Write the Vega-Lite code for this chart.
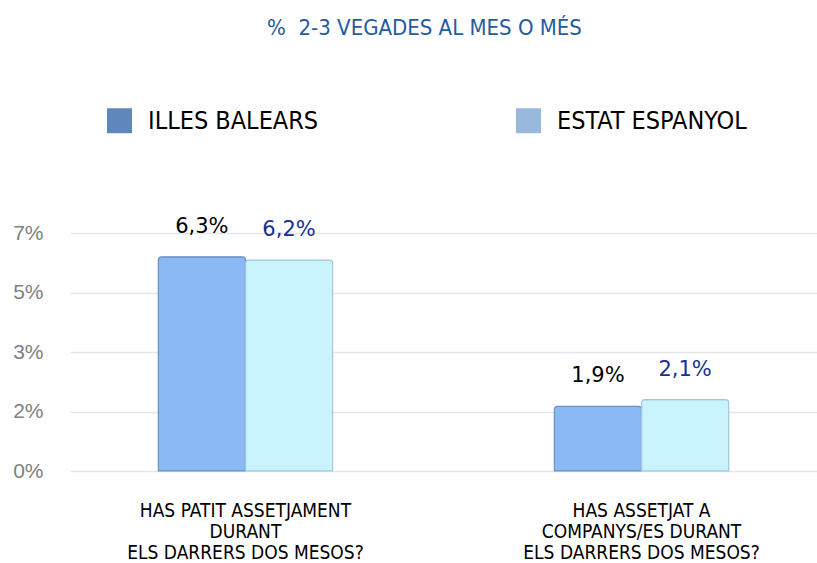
{
  "$schema": "https://vega.github.io/schema/vega-lite/v6.json",
  "width": 747,
  "height": 238,
  "autosize": {"type": "none"},
  "padding": {"left": 70, "top": 233, "right": 0, "bottom": 92},
  "background": "white",
  "title": {
    "text": "% \u00a02-3 VEGADES AL MES O MÉS",
    "font": "DejaVu Sans Condensed",
    "fontSize": 22,
    "fontWeight": "normal",
    "color": "#1f5c9e",
    "anchor": "middle",
    "frame": "group",
    "baseline": "alphabetic",
    "offset": 51,
    "dx": -19
  },
  "config": {"view": {"stroke": null}},
  "data": {
    "values": [
      {"q": "HAS PATIT ASSETJAMENT|DURANT|ELS DARRERS DOS MESOS?", "s": "ILLES BALEARS", "v": 6.3, "lab": "6,3%"},
      {"q": "HAS PATIT ASSETJAMENT|DURANT|ELS DARRERS DOS MESOS?", "s": "ESTAT ESPANYOL", "v": 6.2, "lab": "6,2%"},
      {"q": "HAS ASSETJAT A|COMPANYS/ES DURANT|ELS DARRERS DOS MESOS?", "s": "ILLES BALEARS", "v": 1.9, "lab": "1,9%"},
      {"q": "HAS ASSETJAT A|COMPANYS/ES DURANT|ELS DARRERS DOS MESOS?", "s": "ESTAT ESPANYOL", "v": 2.1, "lab": "2,1%"}
    ]
  },
  "encoding": {
    "x": {
      "field": "q",
      "type": "nominal",
      "sort": null,
      "scale": {"paddingInner": 0.56, "paddingOuter": 0.223},
      "axis": {
        "title": null,
        "labelExpr": "split(datum.label, '|')",
        "labelFont": "DejaVu Sans Condensed",
        "labelFontSize": 19,
        "labelLineHeight": 21,
        "labelColor": "black",
        "labelAngle": 0,
        "labelLimit": 0,
        "labelPadding": 30,
        "ticks": false,
        "domain": false
      }
    },
    "xOffset": {
      "field": "s",
      "type": "nominal",
      "sort": ["ILLES BALEARS", "ESTAT ESPANYOL"],
      "scale": {"paddingInner": 0, "paddingOuter": 0}
    },
    "y": {
      "field": "v",
      "type": "quantitative",
      "scale": {"domain": [0, 7], "nice": false},
      "axis": {
        "title": null,
        "values": [0, 1.75, 3.5, 5.25, 7],
        "labelExpr": "datum.value == 0 ? '0%' : datum.value == 1.75 ? '2%' : datum.value == 3.5 ? '3%' : datum.value == 5.25 ? '5%' : '7%'",
        "labelFont": "Liberation Sans",
        "labelFontSize": 21,
        "labelColor": "#808080",
        "labelPadding": 27,
        "grid": true,
        "gridColor": "#e6e6e6",
        "gridWidth": 1.5,
        "domain": false,
        "ticks": false
      }
    }
  },
  "layer": [
    {
      "mark": {"type": "bar", "cornerRadiusTopLeft": 3, "cornerRadiusTopRight": 3},
      "encoding": {
        "color": {
          "field": "s",
          "type": "nominal",
          "scale": {"domain": ["ILLES BALEARS", "ESTAT ESPANYOL"], "range": ["#6087bb", "#98b9dc"]},
          "legend": {
            "orient": "none",
            "legendX": 37,
            "legendY": -125,
            "direction": "horizontal",
            "title": null,
            "symbolType": "square",
            "symbolSize": 625,
            "symbolStrokeWidth": 0,
            "symbolOpacity": 1,
            "labelFont": "DejaVu Sans Condensed",
            "labelFontSize": 25,
            "labelColor": "black",
            "labelOffset": 16,
            "labelLimit": 400,
            "columnPadding": 197
          }
        }
      }
    },
    {
      "mark": {"type": "bar", "strokeWidth": 1.2, "cornerRadiusTopLeft": 3, "cornerRadiusTopRight": 3},
      "encoding": {
        "fill": {"condition": {"test": "datum.s == 'ILLES BALEARS'", "value": "#8ab9f6"}, "value": "#c9f3fd"},
        "stroke": {"condition": {"test": "datum.s == 'ILLES BALEARS'", "value": "#6b90c4"}, "value": "#9fc8e2"}
      }
    },
    {
      "mark": {"type": "text", "baseline": "alphabetic", "dy": -24, "font": "DejaVu Sans", "fontSize": 21},
      "encoding": {
        "text": {"field": "lab", "type": "nominal"},
        "color": {"condition": {"test": "datum.s == 'ILLES BALEARS'", "value": "black"}, "value": "#1a2f96"}
      }
    }
  ]
}
